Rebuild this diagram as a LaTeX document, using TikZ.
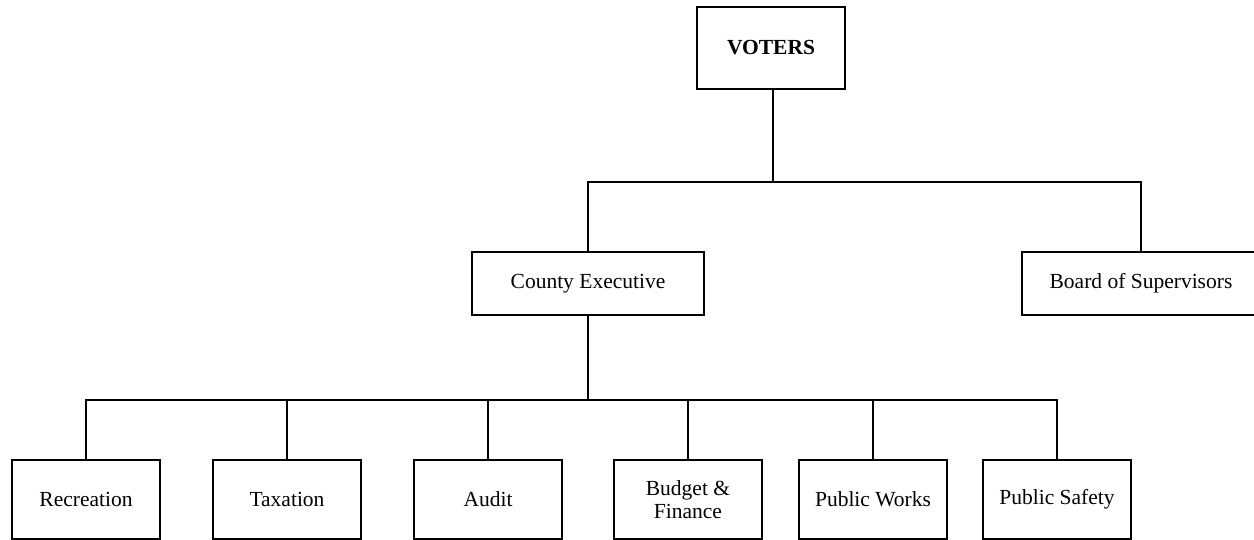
\documentclass[tikz,border=0pt]{standalone}
\usepackage{fontspec}
\setmainfont{Liberation Serif}
\begin{document}
\begin{tikzpicture}[x=1pt,y=-1pt,
  every node/.style={font=\fontsize{21.5}{23.5}\selectfont},
  box/.style={draw,line width=1.5pt,inner sep=0pt,align=center},
  topbox/.style={box,minimum width=148pt,minimum height=82pt},
  midbox/.style={box,minimum width=232pt,minimum height=63pt},
  unitbox/.style={box,minimum width=148pt,minimum height=79pt},
  wire/.style={line width=1.5pt}]
\useasboundingbox (0,0) rectangle (1254,540);
\node[topbox] (voters) at (771,48) {\textbf{VOTERS}};
\node[midbox] (ce) at (588,283.5) {County Executive};
\node[midbox,minimum width=238pt] (board) at (1141,283.5) {Board of Supervisors};
\node[unitbox] (rec) at (86,499.5) {Recreation};
\node[unitbox] (tax) at (287,499.5) {Taxation};
\node[unitbox] (aud) at (488,499.5) {Audit};
\node[unitbox] (bud) at (688,499.5) {Budget \&\\Finance};
\node[unitbox] (pw) at (873,499.5) {Public Works};
\node[unitbox] (ps) at (1057,499.5) {Public Safety};
\coordinate (j1) at (773,182);
\coordinate (j2) at (588,400);
\draw[wire] (voters.south -| j1) -- (j1);
\draw[wire] (ce.north) |- (j1) -| (board.north);
\draw[wire] (ce.south) -- (j2);
\draw[wire] (rec.north) |- (j2) -| (ps.north);
\foreach \n in {tax,aud,bud,pw} \draw[wire] (\n.north) -- (\n.north |- j2);
\end{tikzpicture}
\end{document}
